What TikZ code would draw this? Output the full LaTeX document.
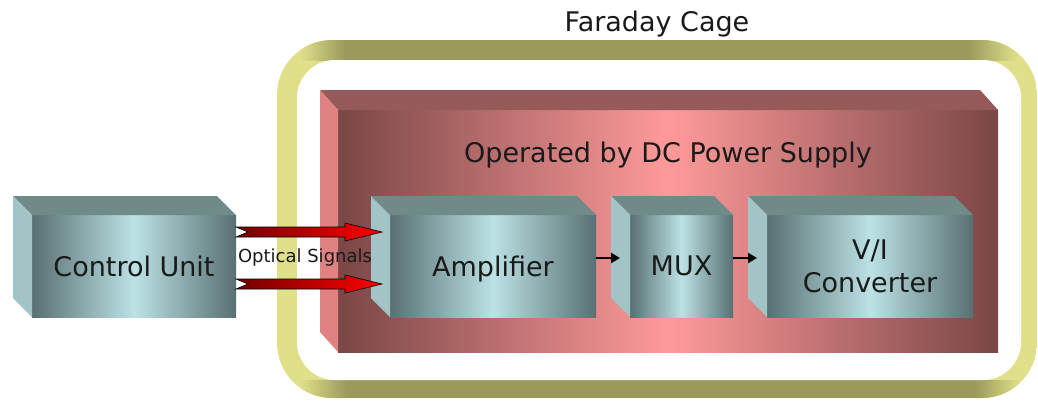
\documentclass[tikz,border=0pt]{standalone}
\usepackage{fontspec}
\setmainfont{DejaVu Sans}
\usetikzlibrary{arrows.meta, positioning, calc}

\definecolor{cageyellow}{HTML}{E0E08A}
\definecolor{cageolive}{HTML}{9A9A5C}
\definecolor{tealdark}{HTML}{587072}
\definecolor{teallight}{HTML}{BCE2E5}
\definecolor{tealtop}{HTML}{708A8A}
\definecolor{tealside}{HTML}{A2C4C7}
\definecolor{rosedark}{HTML}{7A4646}
\definecolor{roselight}{HTML}{FF9A9A}
\definecolor{rosetop}{HTML}{965A5A}
\definecolor{roseside}{HTML}{E08282}
\definecolor{labelgray}{HTML}{1A1A1A}

\tikzstyle{block} = [rectangle, 
minimum width=206pt, 
minimum height=102pt,
inner sep=0pt, outer sep=0pt,
align=center, 
text=labelgray,
font=\fontsize{27}{33}\selectfont,
left color=tealdark, right color=tealdark, middle color=teallight]
\tikzstyle{supply} = [rectangle, 
minimum width=660pt, 
minimum height=242pt,
inner sep=0pt, outer sep=0pt,
left color=rosedark, right color=rosedark, middle color=roselight]
\tikzstyle{title} = [font=\fontsize{27}{30}\selectfont, text=labelgray, anchor=base]
\tikzstyle{arrow} = [-{Triangle[length=9pt,width=10pt]}, line width=2pt]
\tikzstyle{signal} = [draw=black, line width=0.6pt, left color=red!45!black, right color=red]

\begin{document}
\begin{tikzpicture}[x=1pt, y=-1pt]
				
				\useasboundingbox (0,0) rectangle (1038,400);
				
				% Faraday cage
				\begin{scope}
					\clip[rounded corners=55pt] (277,40) rectangle (1037,398);
					\fill[cageyellow] (277,40) rectangle (1037,398);
					\shade[left color=cageyellow, right color=cageolive] (300,40) rectangle (345,60);
					\fill[cageolive] (345,40) rectangle (968,60);
					\shade[left color=cageolive, right color=cageyellow] (968,40) rectangle (1018,60);
					\shade[left color=cageyellow, right color=cageolive] (300,380) rectangle (347,398);
					\fill[cageolive] (347,380) rectangle (975,398);
					\shade[left color=cageolive, right color=cageyellow] (975,380) rectangle (1020,398);
				\end{scope}
				\fill[white, rounded corners=38pt] (297,60) rectangle (1021,380);
				\node[title] (cagelabel) at (657,31) {Faraday Cage};
				
				\node[supply] (dc) at (668,231) {};
				\fill[rosetop] (dc.north west) -- ++(-18,-20) -- ($(dc.north east)+(-18,-20)$) -- (dc.north east) -- cycle;
				\fill[roseside] (dc.north west) -- ++(-18,-20) -- ($(dc.south west)+(-18,-20)$) -- (dc.south west) -- cycle;
				\node[title] (dclabel) at ([yshift=-52pt]dc.north) {Operated by DC Power Supply};
				
				\node[block, minimum width=204pt] (cu) at (134,266) {Control Unit};
				\node[block, text depth=0pt] (amp) at ([xshift=359pt]cu.center) {Amplifier};
				\node[block, minimum width=103pt] (mux) at ([xshift=188.5pt]amp.center) {MUX};
				\node[block] (vi) at ([xshift=188.5pt]mux.center) {V/I \\ Converter};
				
				% 3D faces
				\foreach \b in {cu, amp, mux, vi} {
					\fill[tealtop] (\b.north west) -- ++(-19,-19) -- ($(\b.north east)+(-19,-19)$) -- (\b.north east) -- cycle;
					\fill[tealside] (\b.north west) -- ++(-19,-19) -- ($(\b.south west)+(-19,-19)$) -- (\b.south west) -- cycle;
				}
				
				% Edges
				\draw[arrow] ([yshift=8pt]amp.east) -- ([xshift=-10pt, yshift=8pt]mux.west);
				\draw[arrow] ([yshift=8pt]mux.east) -- ([xshift=-10pt, yshift=8pt]vi.west);
				
				\foreach \dy [count=\i] in {-34,18} {
					\coordinate (tail\i) at ($(cu.east)+(0,\dy)$);
					\coordinate (tip\i) at ($(tail\i -| amp.west)+(-8,0)$);
					\draw[signal] ($(tail\i)+(0,-5)$) -- ($(tip\i)+(-37,-5)$) -- ($(tip\i)+(-37,-9)$) -- (tip\i) -- ($(tip\i)+(-37,9)$) -- ($(tip\i)+(-37,5)$) -- ($(tail\i)+(0,5)$) -- ($(tail\i)+(12,0)$) -- cycle;
				}
				\node[font=\fontsize{18}{20}\selectfont, text=labelgray, inner sep=0pt] (optical) at ($(tail1)!0.5!(tip2)+(-4,0)$) {Optical Signals};
				
			\end{tikzpicture}
\end{document}
